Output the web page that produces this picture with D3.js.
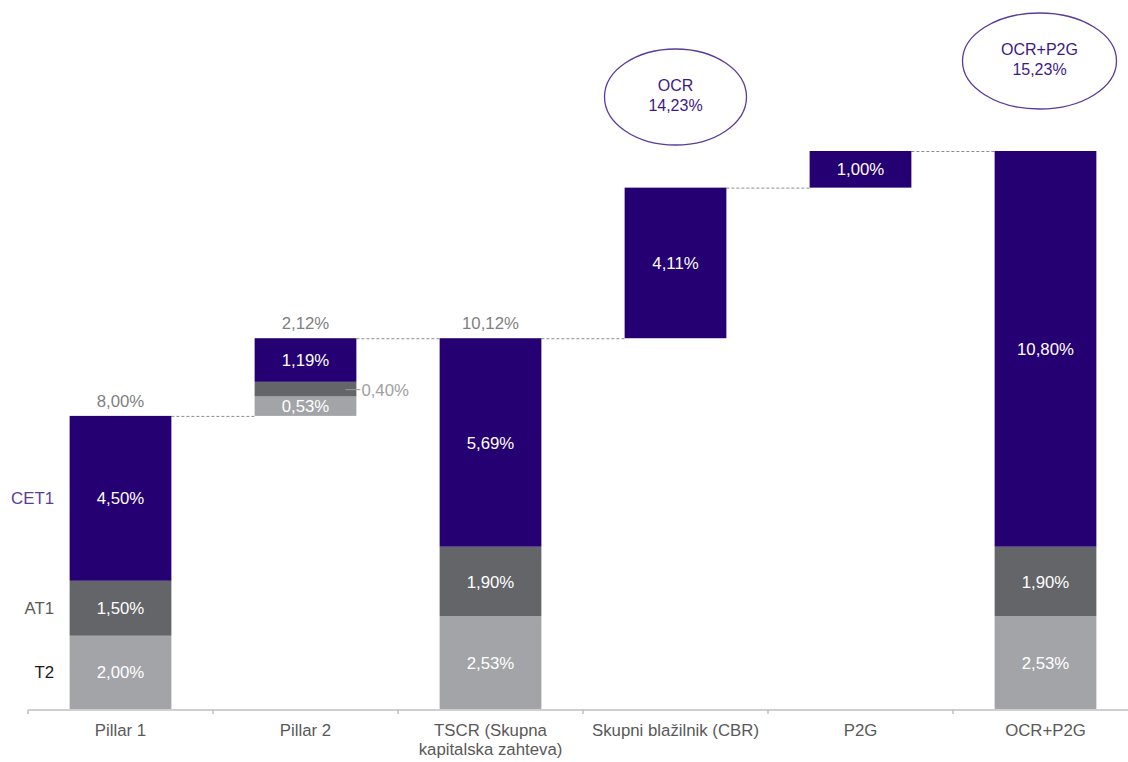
<!DOCTYPE html>
<html>
<head>
<meta charset="utf-8">
<script src="https://cdn.jsdelivr.net/npm/d3@7"></script>
<style>
  body { margin: 0; background: #fff; }
  svg { font-family: "Liberation Sans", Arial, sans-serif; }
</style>
</head>
<body>
<div id="chart"></div>
<script>
// ============================================================================
// data
// ============================================================================

const categories = ["Pillar 1", "Pillar 2", "TSCR (Skupna kapitalska zahteva)",
                    "Skupni blažilnik (CBR)", "P2G", "OCR+P2G"];
// x label lines (TSCR wraps on two lines)
const categoryLines = [["Pillar 1"], ["Pillar 2"], ["TSCR (Skupna", "kapitalska zahteva)"],
                       ["Skupni blažilnik (CBR)"], ["P2G"], ["OCR+P2G"]];

// floating start of each bar (waterfall)
const base = [0, 8.00, 0, 10.12, 14.23, 0];
const t2   = [2.00, 0.53, 2.53, 0, 0, 2.53];
const at1  = [1.50, 0.40, 1.90, 0, 0, 1.90];
const cet1 = [4.50, 1.19, 5.69, 4.11, 1.00, 10.80];

// totals shown above bars
const totalLabels = ["8,00%", "2,12%", "10,12%", null, null, null];

// rows on the left
const rowLabels = ["CET1", "AT1", "T2"];

// callout bubbles
const bubbles = [
    { cat: "Skupni blažilnik (CBR)", lines: ["OCR", "14,23%"] },
    { cat: "OCR+P2G", lines: ["OCR+P2G", "15,23%"] }
];

// ============================================================================
// drawing
// ============================================================================

const width = 1128, height = 762;
const purple = "#250072", darkGray = "#636569", lightGray = "#a3a4a8";
const colors = { t2: lightGray, at1: darkGray, cet1: purple };
const fs = 16.8;

const fmt = v => d3.format(".2f")(v).replace(".", ",") + "%";

const svg = d3.select("#chart").append("svg")
    .attr("width", width)
    .attr("height", height);

const x = d3.scaleBand()
    .domain(categories)
    .range([28, 1138])
    .paddingInner(0.45)
    .paddingOuter(0.225);

const y = d3.scaleLinear()
    .domain([0, 15.23])
    .range([709, 151]);

// build segments
const segs = [];
categories.forEach((c, i) => {
    let lo = base[i];
    [["t2", t2[i]], ["at1", at1[i]], ["cet1", cet1[i]]].forEach(([k, v]) => {
        if (v > 0) {
            segs.push({ cat: c, key: k, lo: lo, hi: lo + v, v: v });
            lo += v;
        }
    });
});

// dashed connectors between bars
const tops = categories.map((c, i) => base[i] + t2[i] + at1[i] + cet1[i]);
svg.append("g")
    .attr("stroke", "#8c8c8c")
    .attr("stroke-width", 1)
    .attr("stroke-dasharray", "3,2")
  .selectAll("line")
  .data(categories.slice(0, -1))
  .join("line")
    .attr("x1", c => x(c) + x.bandwidth())
    .attr("x2", (c, i) => x(categories[i + 1]))
    .attr("y1", (c, i) => y(tops[i]) + 0.5)
    .attr("y2", (c, i) => y(tops[i]) + 0.5);

// bars
svg.append("g")
  .selectAll("rect")
  .data(segs)
  .join("rect")
    .attr("x", d => x(d.cat))
    .attr("width", x.bandwidth())
    .attr("y", d => y(d.hi))
    .attr("height", d => y(d.lo) - y(d.hi))
    .attr("fill", d => colors[d.key]);

// value labels inside bars
svg.append("g")
    .attr("fill", "#fff")
    .attr("font-size", fs)
    .attr("text-anchor", "middle")
  .selectAll("text")
  .data(segs.filter(d => y(d.lo) - y(d.hi) > 16))
  .join("text")
    .attr("x", d => x(d.cat) + x.bandwidth() / 2)
    .attr("y", d => (y(d.lo) + y(d.hi)) / 2)
    .attr("dy", "0.36em")
    .text(d => fmt(d.v));

// small segment label outside (Pillar 2 AT1)
const small = segs.filter(d => y(d.lo) - y(d.hi) <= 16);
const smallG = svg.append("g");
smallG.selectAll("line")
  .data(small)
  .join("line")
    .attr("x1", d => x(d.cat) + x.bandwidth() - 11)
    .attr("x2", d => x(d.cat) + x.bandwidth() + 4)
    .attr("y1", d => (y(d.lo) + y(d.hi)) / 2 + 0.5)
    .attr("y2", d => (y(d.lo) + y(d.hi)) / 2 + 0.5)
    .attr("stroke", "#9a9a9a");
smallG.selectAll("text")
  .data(small)
  .join("text")
    .attr("x", d => x(d.cat) + x.bandwidth() + 5)
    .attr("y", d => (y(d.lo) + y(d.hi)) / 2 + 1)
    .attr("dy", "0.36em")
    .attr("font-size", fs)
    .attr("fill", "#a0a0a0")
    .text(d => fmt(d.v));

// totals above bars
svg.append("g")
    .attr("fill", "#7f7f7f")
    .attr("font-size", fs)
    .attr("text-anchor", "middle")
  .selectAll("text")
  .data(categories.map((c, i) => ({ cat: c, top: tops[i], label: totalLabels[i] })).filter(d => d.label))
  .join("text")
    .attr("x", d => x(d.cat) + x.bandwidth() / 2)
    .attr("y", d => y(d.top) - 9)
    .text(d => d.label);

// row labels on the left, centred on the Pillar 1 segments
const p1 = segs.filter(d => d.cat === categories[0]);
const rowColors = { CET1: "#5b3a9c", AT1: "#595959", T2: "#1a1a1a" };
svg.append("g")
    .attr("font-size", fs)
    .attr("text-anchor", "end")
  .selectAll("text")
  .data(rowLabels)
  .join("text")
    .attr("x", 54)
    .attr("y", r => {
        const s = p1.find(d => d.key === r.toLowerCase());
        return (y(s.lo) + y(s.hi)) / 2;
    })
    .attr("dy", "0.36em")
    .attr("fill", r => rowColors[r])
    .text(r => r);

// x axis
const axis = svg.append("g")
    .attr("transform", "translate(0,709.5)")
    .call(d3.axisBottom(x).tickSize(0).tickFormat(""));
axis.select(".domain").attr("stroke", "#bfbfbf").attr("stroke-width", 1.5);
axis.selectAll(".tick").remove();

// tick marks on band boundaries
svg.append("g")
    .attr("stroke", "#bfbfbf")
    .attr("stroke-width", 1.5)
  .selectAll("line")
  .data(categories)
  .join("line")
    .attr("x1", c => x(c) - x.step() * 0.225)
    .attr("x2", c => x(c) - x.step() * 0.225)
    .attr("y1", 709.5)
    .attr("y2", 714);

// category labels
const catText = svg.append("g")
    .attr("font-size", fs)
    .attr("fill", "#595959")
    .attr("text-anchor", "middle")
  .selectAll("text")
  .data(categories)
  .join("text")
    .attr("x", c => x(c) + x.bandwidth() / 2)
    .attr("y", 736);
catText.selectAll("tspan")
  .data((c, i) => categoryLines[i])
  .join("tspan")
    .attr("x", function() { return this.parentNode.getAttribute("x"); })
    .attr("dy", (l, j) => j === 0 ? 0 : 19)
    .text(l => l);

// callout ellipses
const bub = svg.append("g")
  .selectAll("g")
  .data(bubbles)
  .join("g")
    .attr("transform", (b, i) => {
        const cx = x(b.cat) + x.bandwidth() / 2 + (i === 0 ? 0 : -6);
        const cy = i === 0 ? 97 : 61;
        return `translate(${cx},${cy})`;
    });
bub.append("ellipse")
    .attr("rx", (b, i) => i === 0 ? 71 : 77)
    .attr("ry", 48)
    .attr("fill", "none")
    .attr("stroke", "#5b3a9c")
    .attr("stroke-width", 1.3);
bub.append("text")
    .attr("text-anchor", "middle")
    .attr("font-size", 16)
    .attr("fill", "#3d1a86")
  .selectAll("tspan")
  .data(b => b.lines)
  .join("tspan")
    .attr("x", 0)
    .attr("y", (l, j) => j === 0 ? -6 : 14)
    .text(l => l);
</script>
</body>
</html>
